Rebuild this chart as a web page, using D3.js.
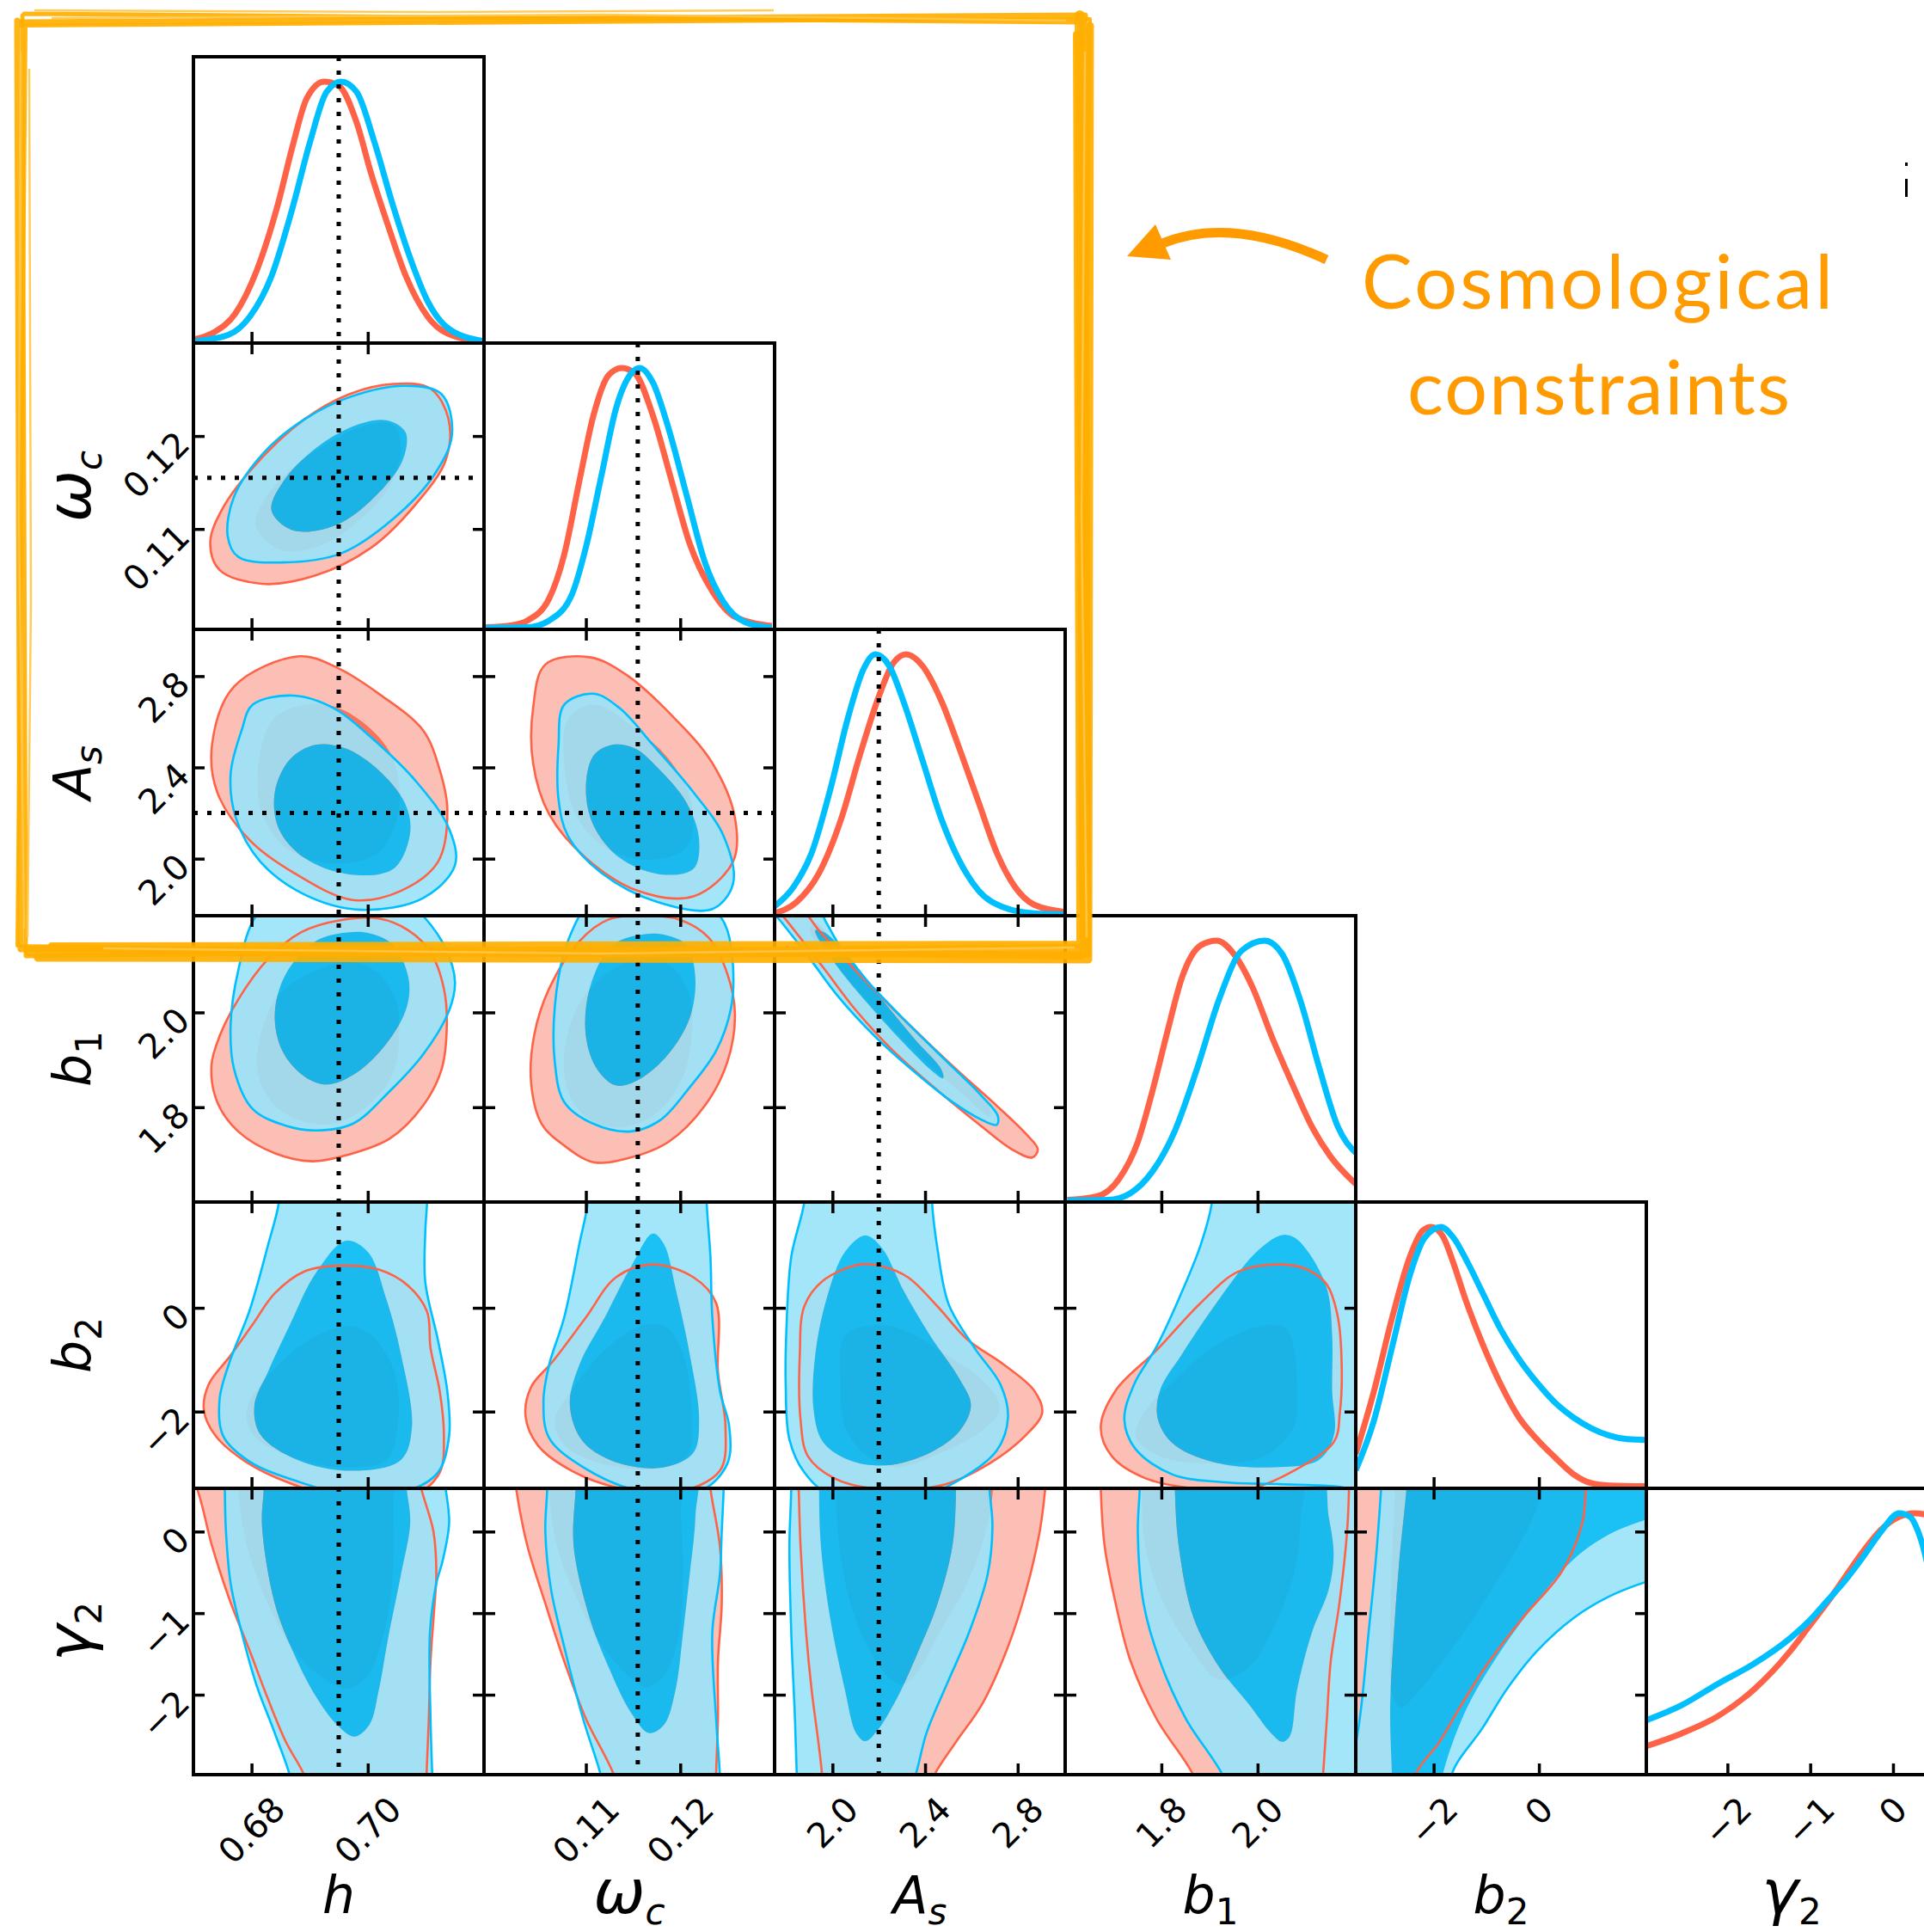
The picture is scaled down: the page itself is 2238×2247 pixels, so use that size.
<!DOCTYPE html>
<html><head><meta charset="utf-8">
<script src="https://cdn.jsdelivr.net/npm/d3@7"></script>
<style>body{margin:0;background:#fff}svg{display:block}</style>
</head><body>
<svg id="chart" width="2238" height="2247"></svg>
<script>
// ---------- parameters ----------
const paramNames = ["h", "omega_c", "A_s", "b_1", "b_2", "gamma_2"];
const axisMin = [0.67, 0.0992, 1.75, 1.6, -3.48, -2.98];
const axisMax = [0.72, 0.1300, 3.005, 2.204, 2.04, 0.53];
const tickValues = [[0.68, 0.70], [0.11, 0.12], [2.0, 2.4, 2.8], [1.8, 2.0], [-2, 0], [-2, -1, 0]];
const tickLabels = [["0.68", "0.70"], ["0.11", "0.12"], ["2.0", "2.4", "2.8"], ["1.8", "2.0"], ["\u22122", "0"], ["\u22122", "\u22121", "0"]];
const truthValues = [0.695, 0.1155, 2.2];

// ---------- 1D marginal densities (value, normalised density) ----------
const hRed = [[0.6702,0.014],[0.6736,0.042],[0.6772,0.113],[0.6809,0.278],[0.6846,0.536],[0.6870,0.748],[0.6895,0.936],[0.6925,1.0],[0.6950,0.984],[0.6981,0.842],[0.7005,0.654],[0.7036,0.442],[0.7066,0.254],[0.7103,0.101],[0.7152,0.024],[0.7200,0.007]];
const hBlue = [[0.6702,0.007],[0.6760,0.031],[0.6797,0.101],[0.6834,0.254],[0.6870,0.513],[0.6901,0.772],[0.6929,0.960],[0.6954,1.0],[0.6981,0.960],[0.7011,0.772],[0.7042,0.536],[0.7073,0.325],[0.7103,0.160],[0.7140,0.054],[0.7200,0.007]];
const wcRed = [[0.0994,0.008],[0.1020,0.015],[0.1038,0.034],[0.1061,0.118],[0.1077,0.286],[0.1093,0.566],[0.1108,0.818],[0.1124,0.972],[0.1138,1.0],[0.1152,0.979],[0.1171,0.818],[0.1191,0.566],[0.1210,0.328],[0.1234,0.146],[0.1258,0.048],[0.1297,0.013]];
const wcBlue = [[0.0994,0.006],[0.1038,0.008],[0.1061,0.034],[0.1085,0.132],[0.1100,0.314],[0.1116,0.580],[0.1132,0.846],[0.1148,0.979],[0.1157,1.0],[0.1171,0.944],[0.1187,0.776],[0.1207,0.510],[0.1226,0.258],[0.1246,0.104],[0.1269,0.027],[0.1297,0.006]];
const AsRed = [[1.75,0.009],[1.846,0.053],[1.942,0.163],[2.038,0.371],[2.118,0.613],[2.198,0.833],[2.262,0.965],[2.318,1.0],[2.390,0.954],[2.470,0.822],[2.550,0.635],[2.630,0.437],[2.710,0.240],[2.790,0.108],[2.871,0.042],[3.005,0.014]];
const AsBlue = [[1.75,0.036],[1.830,0.108],[1.910,0.240],[1.990,0.481],[2.070,0.767],[2.134,0.943],[2.185,1.0],[2.246,0.954],[2.310,0.811],[2.390,0.591],[2.470,0.371],[2.550,0.207],[2.630,0.097],[2.742,0.031],[2.871,0.009],[3.005,0.005]];
const b1Red = [[1.6046,0.008],[1.6663,0.022],[1.7125,0.090],[1.7510,0.230],[1.7818,0.427],[1.8126,0.652],[1.8434,0.862],[1.8820,0.982],[1.9151,1.0],[1.9513,0.947],[1.9898,0.820],[2.0283,0.638],[2.0746,0.441],[2.1131,0.287],[2.1516,0.174],[2.204,0.069]];
const b1Blue = [[1.6046,0.006],[1.6894,0.008],[1.7356,0.034],[1.7818,0.118],[1.8280,0.272],[1.8743,0.511],[1.9205,0.778],[1.9667,0.961],[2.0145,1.0],[2.0515,0.947],[2.0900,0.764],[2.1285,0.511],[2.1670,0.287],[2.204,0.188]];
const b2Red = [[-3.48,0.132],[-3.136,0.370],[-2.792,0.650],[-2.448,0.888],[-2.207,0.986],[-2.048,1.0],[-1.828,0.965],[-1.622,0.860],[-1.415,0.734],[-1.071,0.552],[-0.727,0.398],[-0.383,0.272],[-0.039,0.188],[0.306,0.118],[0.650,0.055],[0.994,0.020],[1.338,0.011],[2.04,0.008]];
const b2Blue = [[-3.48,0.069],[-3.136,0.258],[-2.792,0.538],[-2.448,0.818],[-2.172,0.958],[-1.862,1.0],[-1.622,0.958],[-1.346,0.860],[-1.071,0.748],[-0.727,0.608],[-0.383,0.496],[-0.039,0.405],[0.306,0.328],[0.650,0.272],[0.994,0.230],[1.338,0.202],[1.682,0.188],[2.04,0.185]];
const g2Red = [[-2.98,0.109],[-2.551,0.158],[-2.113,0.224],[-1.676,0.327],[-1.238,0.474],[-1.019,0.565],[-0.800,0.656],[-0.581,0.755],[-0.363,0.853],[-0.144,0.937],[0.075,0.986],[0.250,1.0],[0.373,0.996],[0.53,0.97]];
const g2Blue = [[-2.98,0.208],[-2.551,0.266],[-2.113,0.348],[-1.676,0.425],[-1.238,0.523],[-1.019,0.586],[-0.800,0.663],[-0.581,0.741],[-0.363,0.832],[-0.144,0.930],[0.075,1.0],[0.207,0.986],[0.294,0.937],[0.373,0.860],[0.53,0.62]];

// ---------- 2D credible regions (x value, y value) ----------
// (h, omega_c)
const h_wc_red95 = [[0.6729,0.1086],[0.6745,0.1056],[0.6818,0.1041],[0.6910,0.1050],[0.7006,0.1080],[0.7083,0.1127],[0.7134,0.1174],[0.7139,0.1218],[0.7108,0.1251],[0.7044,0.1256],[0.6968,0.1245],[0.6891,0.1218],[0.6808,0.1170],[0.6751,0.1123]];
const h_wc_red68 = [[0.6807,0.1104],[0.6847,0.1078],[0.6910,0.1080],[0.6981,0.1107],[0.7038,0.1147],[0.7057,0.1186],[0.7044,0.1212],[0.7000,0.1212],[0.6936,0.1194],[0.6859,0.1159],[0.6818,0.1127]];
const h_wc_blue95 = [[0.6759,0.1092],[0.6777,0.1070],[0.6853,0.1064],[0.6955,0.1074],[0.7044,0.1111],[0.7115,0.1159],[0.7145,0.1202],[0.7127,0.1245],[0.7064,0.1254],[0.6974,0.1243],[0.6891,0.1218],[0.6821,0.1182],[0.6770,0.1135]];
const h_wc_blue68 = [[0.6834,0.1121],[0.6859,0.1102],[0.6891,0.1097],[0.6955,0.1107],[0.7019,0.1139],[0.7060,0.1174],[0.7065,0.1204],[0.7032,0.1217],[0.6981,0.1212],[0.6917,0.1190],[0.6859,0.1155]];
// (h, A_s)
const h_As_red95 = [[0.6882,2.887],[0.6770,2.755],[0.6732,2.499],[0.6741,2.291],[0.6796,2.083],[0.6872,1.939],[0.6974,1.819],[0.7057,1.859],[0.7121,1.987],[0.7137,2.211],[0.7124,2.387],[0.7095,2.563],[0.7019,2.723],[0.6949,2.835]];
const h_As_red68 = [[0.6891,2.675],[0.6837,2.611],[0.6812,2.419],[0.6818,2.195],[0.6866,2.035],[0.6942,1.979],[0.7019,2.027],[0.7054,2.227],[0.7041,2.451],[0.6993,2.595],[0.6942,2.667]];
const h_As_blue95 = [[0.6872,2.715],[0.6802,2.675],[0.6783,2.563],[0.6764,2.371],[0.6773,2.179],[0.6815,1.987],[0.6891,1.843],[0.6987,1.776],[0.7095,1.827],[0.7150,1.971],[0.7140,2.131],[0.7083,2.339],[0.7006,2.531],[0.6942,2.659]];
const h_As_blue68 = [[0.6910,2.499],[0.6866,2.435],[0.6840,2.291],[0.6847,2.131],[0.6891,2.003],[0.6968,1.931],[0.7044,1.955],[0.7073,2.115],[0.7064,2.243],[0.7019,2.387],[0.6962,2.483]];
// (omega_c, A_s)
const wc_As_red95 = [[0.1104,2.883],[0.1057,2.851],[0.1044,2.659],[0.1044,2.419],[0.1061,2.195],[0.1100,2.003],[0.1155,1.859],[0.1214,1.835],[0.1256,1.987],[0.1258,2.179],[0.1234,2.419],[0.1195,2.611],[0.1144,2.803]];
const wc_As_red68 = [[0.1108,2.675],[0.1081,2.611],[0.1077,2.419],[0.1089,2.195],[0.1120,2.051],[0.1167,1.995],[0.1207,2.051],[0.1212,2.243],[0.1191,2.419],[0.1155,2.563]];
const wc_As_blue95 = [[0.1108,2.723],[0.1077,2.675],[0.1071,2.499],[0.1071,2.259],[0.1081,2.099],[0.1116,1.939],[0.1175,1.811],[0.1234,1.779],[0.1256,1.891],[0.1246,2.099],[0.1214,2.291],[0.1171,2.499],[0.1136,2.659]];
const wc_As_blue68 = [[0.1128,2.499],[0.1108,2.451],[0.1100,2.307],[0.1108,2.147],[0.1136,2.003],[0.1179,1.931],[0.1214,1.955],[0.1220,2.083],[0.1207,2.243],[0.1175,2.403],[0.1152,2.483]];
// (h, b_1)
const h_b1_red95 = [[0.7108,2.127],[0.7131,2.050],[0.7136,1.973],[0.7127,1.880],[0.7095,1.803],[0.7038,1.734],[0.6955,1.696],[0.6904,1.686],[0.6840,1.703],[0.6777,1.749],[0.6741,1.811],[0.6731,1.888],[0.6745,1.950],[0.6777,2.027],[0.6828,2.112],[0.6885,2.169],[0.6955,2.195],[0.7019,2.198],[0.7070,2.173]];
const h_b1_red68 = [[0.6840,2.027],[0.6812,1.934],[0.6812,1.865],[0.6840,1.803],[0.6891,1.769],[0.6942,1.765],[0.7000,1.803],[0.7044,1.873],[0.7054,1.950],[0.7048,2.027],[0.7013,2.088],[0.6968,2.108],[0.6910,2.088],[0.6866,2.058]];
const h_b1_blue95 = [[0.6808,2.204],[0.6777,2.088],[0.6764,1.973],[0.6770,1.880],[0.6802,1.796],[0.6859,1.761],[0.6910,1.751],[0.6974,1.765],[0.7038,1.834],[0.7095,1.911],[0.7140,2.004],[0.7150,2.065],[0.7134,2.135],[0.7095,2.204],[0.7044,2.258],[0.6866,2.258]];
const h_b1_blue68 = [[0.6968,2.169],[0.6910,2.150],[0.6859,2.081],[0.6840,1.996],[0.6853,1.919],[0.6891,1.865],[0.6930,1.848],[0.6981,1.873],[0.7032,1.934],[0.7067,2.011],[0.7070,2.073],[0.7044,2.142],[0.7006,2.166]];
// (omega_c, b_1)
const wc_b1_red95 = [[0.1061,2.050],[0.1045,1.950],[0.1042,1.850],[0.1053,1.765],[0.1077,1.719],[0.1108,1.684],[0.1144,1.692],[0.1187,1.726],[0.1226,1.803],[0.1250,1.896],[0.1258,1.996],[0.1250,2.081],[0.1230,2.158],[0.1199,2.196],[0.1163,2.204],[0.1124,2.196],[0.1093,2.150]];
const wc_b1_red68 = [[0.1116,2.073],[0.1089,2.004],[0.1077,1.911],[0.1081,1.834],[0.1100,1.780],[0.1136,1.757],[0.1175,1.788],[0.1203,1.865],[0.1212,1.950],[0.1210,2.035],[0.1191,2.096],[0.1155,2.112]];
const wc_b1_blue95 = [[0.1093,2.204],[0.1077,2.127],[0.1067,2.011],[0.1067,1.896],[0.1077,1.811],[0.1108,1.765],[0.1148,1.749],[0.1179,1.773],[0.1210,1.842],[0.1238,1.919],[0.1254,2.011],[0.1256,2.096],[0.1250,2.173],[0.1242,2.204],[0.1212,2.258],[0.1110,2.258]];
const wc_b1_blue68 = [[0.1167,2.166],[0.1128,2.142],[0.1104,2.050],[0.1100,1.950],[0.1112,1.880],[0.1132,1.846],[0.1155,1.857],[0.1187,1.911],[0.1210,1.988],[0.1216,2.073],[0.1207,2.142],[0.1187,2.162]];
// (A_s, b_1)
const As_b1_red95 = [[1.654,2.281],[1.798,2.196],[1.958,2.096],[2.102,2.004],[2.262,1.919],[2.438,1.842],[2.630,1.765],[2.775,1.711],[2.863,1.694],[2.887,1.711],[2.839,1.742],[2.710,1.803],[2.550,1.873],[2.390,1.946],[2.230,2.023],[2.070,2.104],[1.942,2.173],[1.814,2.250]];
const As_b1_red68 = [[1.902,2.173],[2.038,2.088],[2.230,1.981],[2.422,1.888],[2.582,1.819],[2.678,1.780],[2.675,1.803],[2.550,1.873],[2.358,1.965],[2.166,2.058],[2.006,2.150],[1.926,2.189]];
const As_b1_blue95 = [[1.654,2.266],[1.782,2.189],[1.894,2.119],[2.022,2.035],[2.182,1.950],[2.358,1.873],[2.518,1.811],[2.646,1.773],[2.710,1.763],[2.714,1.782],[2.646,1.823],[2.486,1.900],[2.326,1.977],[2.166,2.058],[2.038,2.135],[1.974,2.189],[1.894,2.258]];
const As_b1_blue68 = [[1.926,2.173],[2.022,2.096],[2.166,2.011],[2.310,1.934],[2.422,1.880],[2.478,1.861],[2.470,1.880],[2.358,1.942],[2.214,2.027],[2.070,2.119],[1.974,2.166]];
// (h, b_2)
const h_b2_red95 = [[0.6955,0.815],[0.6891,0.702],[0.6840,0.280],[0.6802,-0.319],[0.6764,-0.917],[0.6726,-1.481],[0.6718,-1.973],[0.6738,-2.466],[0.6789,-2.959],[0.6866,-3.381],[0.6955,-3.663],[0.7083,-3.593],[0.7124,-3.170],[0.7131,-2.466],[0.7124,-1.621],[0.7108,-0.776],[0.7102,-0.072],[0.7070,0.421],[0.7019,0.737]];
const h_b2_red68 = [[0.6955,-0.361],[0.6891,-0.678],[0.6828,-1.312],[0.6792,-1.945],[0.6802,-2.438],[0.6866,-2.861],[0.6955,-3.072],[0.7032,-2.931],[0.7051,-2.297],[0.7048,-1.312],[0.7019,-0.678],[0.6987,-0.396]];
const h_b2_blue95 = [[0.6847,2.533],[0.6847,2.04],[0.6828,1.195],[0.6796,-0.072],[0.6764,-0.988],[0.6745,-1.762],[0.6751,-2.466],[0.6796,-2.959],[0.6879,-3.346],[0.6968,-3.593],[0.7070,-3.522],[0.7121,-3.170],[0.7140,-2.466],[0.7137,-1.621],[0.7121,-0.636],[0.7099,0.491],[0.7099,1.477],[0.7102,2.04],[0.7102,2.533]];
const h_b2_blue68 = [[0.6962,1.294],[0.6910,0.660],[0.6866,-0.326],[0.6828,-1.241],[0.6805,-1.875],[0.6815,-2.438],[0.6879,-2.931],[0.6974,-3.142],[0.7057,-2.931],[0.7076,-2.297],[0.7057,-0.889],[0.7032,0.167],[0.7000,1.082]];
// (omega_c, b_2)
const wc_b2_red95 = [[0.1171,0.836],[0.1132,0.590],[0.1100,-0.185],[0.1065,-1.030],[0.1042,-1.523],[0.1036,-2.086],[0.1049,-2.649],[0.1085,-3.142],[0.1136,-3.480],[0.1195,-3.565],[0.1242,-3.142],[0.1248,-2.297],[0.1240,-1.241],[0.1238,0.097],[0.1214,0.590]];
const wc_b2_red68 = [[0.1163,-0.326],[0.1122,-0.776],[0.1085,-1.593],[0.1067,-2.156],[0.1077,-2.649],[0.1116,-3.001],[0.1171,-3.107],[0.1207,-2.861],[0.1212,-1.945],[0.1203,-0.889],[0.1187,-0.396]];
const wc_b2_blue95 = [[0.1102,2.533],[0.1102,2.04],[0.1093,1.223],[0.1077,-0.185],[0.1061,-1.100],[0.1055,-1.804],[0.1061,-2.508],[0.1097,-3.072],[0.1155,-3.522],[0.1222,-3.522],[0.1250,-3.001],[0.1252,-2.297],[0.1242,-1.593],[0.1234,-0.185],[0.1232,0.984],[0.1228,2.04],[0.1228,2.533]];
const wc_b2_blue68 = [[0.1171,1.434],[0.1148,0.801],[0.1120,-0.185],[0.1093,-1.100],[0.1083,-1.875],[0.1097,-2.579],[0.1136,-3.001],[0.1183,-3.072],[0.1214,-2.790],[0.1220,-2.156],[0.1210,-0.889],[0.1195,0.378],[0.1183,1.223]];
// (A_s, b_2)
const As_b2_red95 = [[2.118,0.836],[1.958,0.519],[1.878,0.026],[1.859,-0.889],[1.862,-2.156],[1.894,-2.861],[2.006,-3.283],[2.198,-3.494],[2.470,-3.424],[2.678,-3.001],[2.839,-2.438],[2.906,-2.016],[2.871,-1.593],[2.742,-1.100],[2.582,-0.607],[2.454,0.026],[2.326,0.590],[2.214,0.801]];
const As_b2_red68 = [[2.198,-0.326],[2.054,-0.537],[2.035,-1.452],[2.054,-2.297],[2.150,-2.861],[2.278,-3.072],[2.470,-2.790],[2.646,-2.368],[2.723,-1.945],[2.662,-1.452],[2.486,-0.889],[2.326,-0.467]];
const As_b2_blue95 = [[1.878,2.533],[1.878,2.04],[1.822,0.984],[1.801,-0.424],[1.798,-1.481],[1.814,-2.537],[1.878,-3.170],[1.990,-3.593],[2.358,-3.663],[2.550,-3.311],[2.710,-2.748],[2.758,-2.114],[2.726,-1.481],[2.614,-0.776],[2.502,0.068],[2.454,1.125],[2.430,2.04],[2.430,2.533]];
const As_b2_blue68 = [[2.142,1.399],[2.054,1.082],[1.974,0.167],[1.926,-0.889],[1.918,-1.945],[1.958,-2.579],[2.070,-2.931],[2.230,-3.037],[2.422,-2.790],[2.550,-2.368],[2.598,-1.875],[2.550,-1.382],[2.422,-0.537],[2.310,0.308],[2.214,1.153]];
// (b_1, b_2)
const b1_b2_red95 = [[2.051,0.836],[1.959,0.695],[1.882,0.097],[1.790,-0.818],[1.705,-1.593],[1.674,-2.297],[1.697,-2.861],[1.766,-3.283],[1.867,-3.480],[1.982,-3.494],[2.075,-3.142],[2.159,-2.579],[2.171,-2.016],[2.175,-1.241],[2.167,-0.185],[2.144,0.449],[2.105,0.730]];
const b1_b2_red68 = [[2.021,-0.326],[1.920,-0.678],[1.828,-1.382],[1.759,-2.086],[1.747,-2.508],[1.797,-2.861],[1.905,-3.001],[2.013,-2.861],[2.075,-2.297],[2.082,-1.452],[2.075,-0.748],[2.059,-0.396]];
const b1_b2_blue95 = [[1.905,2.533],[1.905,2.04],[1.882,1.223],[1.836,0.167],[1.790,-0.748],[1.743,-1.481],[1.723,-2.156],[1.746,-2.720],[1.823,-3.213],[1.924,-3.36],[2.040,-3.40],[2.160,-3.44],[2.300,-3.55],[2.300,2.533]];
const b1_b2_blue68 = [[2.048,1.399],[1.998,1.082],[1.920,0.167],[1.843,-0.889],[1.797,-1.593],[1.793,-2.156],[1.828,-2.649],[1.920,-3.001],[2.036,-3.072],[2.128,-2.931],[2.159,-2.438],[2.155,-1.593],[2.155,-0.537],[2.144,0.378],[2.105,1.082],[2.075,1.364]];
// (h, gamma_2)
const h_g2_red95 = [[0.6681,0.883],[0.6706,0.53],[0.6732,-0.176],[0.6761,-0.812],[0.6796,-1.447],[0.6828,-2.048],[0.6859,-2.577],[0.6891,-2.994],[0.6904,-3.354],[0.7099,-3.354],[0.7101,-2.994],[0.7105,-2.295],[0.7108,-1.589],[0.7115,-0.882],[0.7118,-0.529],[0.7113,0.0],[0.7092,0.53],[0.7083,0.883]];
const h_g2_red68 = [[0.6777,0.883],[0.6777,0.53],[0.6792,-0.176],[0.6828,-0.882],[0.6872,-1.447],[0.6917,-1.765],[0.6962,-1.924],[0.7000,-1.765],[0.7028,-1.236],[0.7043,-0.529],[0.7044,0.177],[0.7032,0.883]];
const h_g2_blue95 = [[0.6754,0.883],[0.6754,0.53],[0.6756,0.0],[0.6764,-0.635],[0.6783,-1.236],[0.6808,-1.871],[0.6840,-2.471],[0.6866,-2.994],[0.6875,-3.354],[0.7113,-3.354],[0.7111,-2.994],[0.7108,-2.295],[0.7107,-1.236],[0.7118,-0.635],[0.7129,-0.353],[0.7140,0.106],[0.7134,0.53],[0.7127,0.883]];
const h_g2_blue68 = [[0.6821,0.883],[0.6821,0.53],[0.6818,0.071],[0.6840,-0.882],[0.6872,-1.483],[0.6910,-2.012],[0.6949,-2.383],[0.6977,-2.514],[0.7003,-2.365],[0.7019,-1.942],[0.7035,-1.306],[0.7057,-0.529],[0.7073,0.106],[0.7067,0.53],[0.7064,0.883]];
// (omega_c, gamma_2)
const wc_g2_red95 = [[0.1023,0.883],[0.1026,0.53],[0.1038,-0.176],[0.1057,-0.882],[0.1077,-1.589],[0.1100,-2.295],[0.1130,-2.994],[0.1137,-3.354],[0.1238,-3.354],[0.1238,-2.994],[0.1240,-2.295],[0.1240,-1.589],[0.1244,-0.882],[0.1242,-0.176],[0.1232,0.53],[0.1230,0.883]];
const wc_g2_red68 = [[0.1061,0.883],[0.1061,0.53],[0.1069,-0.176],[0.1093,-0.882],[0.1120,-1.447],[0.1148,-1.800],[0.1163,-1.906],[0.1183,-1.765],[0.1199,-1.236],[0.1203,-0.529],[0.1201,0.177],[0.1195,0.883]];
const wc_g2_blue95 = [[0.1059,0.883],[0.1059,0.53],[0.1057,0.0],[0.1063,-0.706],[0.1077,-1.412],[0.1097,-2.295],[0.1116,-2.994],[0.1122,-3.354],[0.1242,-3.354],[0.1242,-2.994],[0.1238,-2.295],[0.1234,-1.236],[0.1242,-0.529],[0.1244,0.0],[0.1246,0.53],[0.1246,0.883]];
const wc_g2_blue68 = [[0.1089,0.883],[0.1089,0.53],[0.1087,-0.176],[0.1104,-1.059],[0.1124,-1.659],[0.1148,-2.224],[0.1167,-2.471],[0.1183,-2.365],[0.1195,-1.942],[0.1203,-1.236],[0.1210,-0.529],[0.1216,0.177],[0.1214,0.883]];
// (A_s, gamma_2)
const As_g2_red95 = [[1.849,0.883],[1.854,0.53],[1.862,-0.176],[1.886,-1.236],[1.910,-1.942],[1.942,-2.648],[1.955,-2.994],[1.958,-3.354],[2.390,-3.354],[2.438,-2.994],[2.534,-2.577],[2.646,-2.118],[2.758,-1.412],[2.838,-0.706],[2.895,0.0],[2.919,0.53],[2.927,0.883]];
const As_g2_red68 = [[2.014,0.883],[2.014,0.53],[2.030,-0.176],[2.078,-0.882],[2.158,-1.447],[2.246,-1.800],[2.302,-1.871],[2.366,-1.730],[2.462,-1.236],[2.582,-0.635],[2.662,0.0],[2.694,0.53],[2.694,0.883]];
const As_g2_blue95 = [[1.822,0.883],[1.822,0.53],[1.814,-0.176],[1.822,-1.236],[1.838,-2.295],[1.846,-2.994],[1.849,-3.354],[2.310,-3.354],[2.358,-2.994],[2.406,-2.471],[2.494,-1.871],[2.590,-1.236],[2.670,-0.529],[2.691,0.071],[2.678,0.53],[2.678,0.883]];
const As_g2_blue68 = [[1.942,0.883],[1.942,0.53],[1.950,-0.176],[1.990,-1.059],[2.054,-1.942],[2.102,-2.471],[2.142,-2.570],[2.190,-2.454],[2.278,-2.048],[2.374,-1.447],[2.454,-0.882],[2.518,-0.176],[2.534,0.53],[2.534,0.883]];
// (b_1, gamma_2)
const b1_g2_red95 = [[1.674,0.883],[1.674,0.53],[1.682,-0.176],[1.705,-0.882],[1.736,-1.589],[1.790,-2.295],[1.867,-2.994],[1.885,-3.354],[2.132,-3.354],[2.136,-2.994],[2.144,-2.295],[2.152,-1.589],[2.170,-0.882],[2.186,0.0],[2.190,0.53],[2.190,0.883]];
const b1_g2_red68 = [[1.759,0.883],[1.759,0.53],[1.766,-0.176],[1.805,-0.882],[1.859,-1.412],[1.920,-1.818],[1.982,-1.659],[2.028,-1.236],[2.075,-0.529],[2.090,0.177],[2.090,0.883]];
const b1_g2_blue95 = [[1.755,0.883],[1.755,0.53],[1.751,0.0],[1.763,-0.882],[1.797,-1.589],[1.851,-2.295],[1.928,-2.994],[1.947,-3.354],[2.293,-3.354],[2.293,0.883]];
const b1_g2_blue68 = [[1.828,0.883],[1.828,0.53],[1.836,-0.176],[1.867,-1.059],[1.920,-1.659],[1.982,-2.118],[2.028,-2.471],[2.051,-2.577],[2.067,-2.507],[2.082,-1.942],[2.113,-1.236],[2.148,-0.706],[2.158,-0.282],[2.148,0.177],[2.121,0.883]];
// (b_2, gamma_2)
const b2_g2_red95 = [[-4.168,0.978],[0.960,0.978],[0.891,0.503],[0.822,0.100],[0.443,-0.482],[-0.314,-1.064],[-1.002,-1.646],[-1.484,-2.138],[-1.897,-2.586],[-2.344,-2.980],[-2.448,-3.499],[-4.168,-3.499]];
const b2_g2_red68 = [[-2.723,0.978],[-2.737,0.53],[-2.792,-0.365],[-2.826,-1.261],[-2.792,-1.977],[-2.620,-2.156],[-2.310,-1.977],[-1.553,-1.350],[-0.864,-0.679],[-0.245,-0.007],[0.030,0.440],[0.099,0.978]];
const b2_g2_blue95 = [[-2.964,0.978],[-2.998,0.53],[-3.101,-0.365],[-3.239,-1.261],[-3.377,-2.156],[-3.48,-2.604],[-3.824,-3.499],[-1.656,-3.499],[-1.656,-2.980],[-1.071,-2.407],[-0.589,-1.914],[-0.039,-1.467],[0.650,-1.064],[1.338,-0.795],[2.040,-0.616],[2.715,-0.500],[2.715,0.978]];
const b2_g2_blue68 = [[-2.482,0.978],[-2.516,0.53],[-2.654,-0.365],[-2.757,-1.261],[-2.826,-2.156],[-2.792,-2.980],[-2.757,-3.499],[-1.966,-3.499],[-1.828,-2.980],[-1.415,-2.228],[-0.864,-1.601],[-0.176,-0.974],[0.650,-0.347],[1.338,-0.034],[2.040,0.145],[2.715,0.261],[2.715,0.978]];

// ---------- assemble panel tables ----------
const marginals = [[hRed, hBlue], [wcRed, wcBlue], [AsRed, AsBlue], [b1Red, b1Blue], [b2Red, b2Blue], [g2Red, g2Blue]];
const pairs = [
  [0,1,h_wc_red95,h_wc_red68,h_wc_blue95,h_wc_blue68],
  [0,2,h_As_red95,h_As_red68,h_As_blue95,h_As_blue68],
  [1,2,wc_As_red95,wc_As_red68,wc_As_blue95,wc_As_blue68],
  [0,3,h_b1_red95,h_b1_red68,h_b1_blue95,h_b1_blue68],
  [1,3,wc_b1_red95,wc_b1_red68,wc_b1_blue95,wc_b1_blue68],
  [2,3,As_b1_red95,As_b1_red68,As_b1_blue95,As_b1_blue68],
  [0,4,h_b2_red95,h_b2_red68,h_b2_blue95,h_b2_blue68],
  [1,4,wc_b2_red95,wc_b2_red68,wc_b2_blue95,wc_b2_blue68],
  [2,4,As_b2_red95,As_b2_red68,As_b2_blue95,As_b2_blue68],
  [3,4,b1_b2_red95,b1_b2_red68,b1_b2_blue95,b1_b2_blue68],
  [0,5,h_g2_red95,h_g2_red68,h_g2_blue95,h_g2_blue68],
  [1,5,wc_g2_red95,wc_g2_red68,wc_g2_blue95,wc_g2_blue68],
  [2,5,As_g2_red95,As_g2_red68,As_g2_blue95,As_g2_blue68],
  [3,5,b1_g2_red95,b1_g2_red68,b1_g2_blue95,b1_g2_blue68],
  [4,5,b2_g2_red95,b2_g2_red68,b2_g2_blue95,b2_g2_blue68]
].map(([col,row,red95,red68,blue95,blue68]) => ({col,row,red95,red68,blue95,blue68}));

// ---------- styling & layout ----------
const RED_LINE = "#ff6347", BLUE_LINE = "#00bfff";
const RED95_FILL = "#fbbfb5", RED68_FILL = "#f9735c";
const BLUE95_FILL = "rgb(153,227,249)", BLUE68_FILL = "rgb(2,185,244)";
const N = 6;
const gridLeft = 225, gridTop = 66, cellW = 338, cellH = 333;
const colX = i => gridLeft + i * cellW;
const rowY = j => gridTop + j * cellH;
const TICK_FONT = 40, LABEL_FONT = 60, GREEK_FONT = 72;

const svg = d3.select("#chart");
const defs = svg.append("defs");

const xScales = d3.range(N).map(i => d3.scaleLinear().domain([axisMin[i], axisMax[i]]).range([colX(i), colX(i) + cellW]));
const yScales = d3.range(N).map(j => d3.scaleLinear().domain([axisMin[j], axisMax[j]]).range([rowY(j) + cellH, rowY(j)]));
const densityScales = d3.range(N).map(j => d3.scaleLinear().domain([0, 1.095]).range([rowY(j) + cellH, rowY(j)]));

function clipFor(col, row) {
  const id = `clip-${col}-${row}`;
  defs.append("clipPath").attr("id", id).append("rect")
    .attr("x", colX(col)).attr("y", rowY(row)).attr("width", cellW).attr("height", cellH);
  return `url(#${id})`;
}

// ---------- 2D panels ----------
pairs.forEach(p => {
  const xs = xScales[p.col], ys = yScales[p.row];
  const shape = d3.line().x(d => xs(d[0])).y(d => ys(d[1])).curve(d3.curveCatmullRomClosed.alpha(0.5));
  const g = svg.append("g").attr("clip-path", clipFor(p.col, p.row));
  g.append("path").attr("d", shape(p.red95)).attr("fill", RED95_FILL);
  g.append("path").attr("d", shape(p.red68)).attr("fill", RED68_FILL);
  g.append("path").attr("d", shape(p.blue95) + shape(p.blue68))
    .attr("fill", BLUE95_FILL).attr("fill-opacity", 0.9).attr("fill-rule", "evenodd");
  g.append("path").attr("d", shape(p.blue68)).attr("fill", BLUE68_FILL).attr("fill-opacity", 0.9);
  g.append("path").attr("d", shape(p.red95)).attr("fill", "none").attr("stroke", RED_LINE).attr("stroke-width", 2.6);
  g.append("path").attr("d", shape(p.blue95)).attr("fill", "none").attr("stroke", BLUE_LINE).attr("stroke-width", 2.6);
});

// ---------- 1D panels ----------
marginals.forEach(([red, blue], i) => {
  const xs = xScales[i], ds = densityScales[i];
  const curve = d3.line().x(d => xs(d[0])).y(d => ds(d[1])).curve(d3.curveMonotoneX);
  const g = svg.append("g").attr("clip-path", clipFor(i, i));
  g.append("path").attr("d", curve(red)).attr("fill", "none").attr("stroke", RED_LINE).attr("stroke-width", 7);
  g.append("path").attr("d", curve(blue)).attr("fill", "none").attr("stroke", BLUE_LINE).attr("stroke-width", 7);
});

// ---------- fiducial values (dotted) ----------
const truthG = svg.append("g").attr("stroke", "#000").attr("stroke-width", 5).attr("stroke-dasharray", "5 11");
truthValues.forEach((v, i) => {
  const x = xScales[i](v);
  truthG.append("line").attr("x1", x).attr("x2", x).attr("y1", rowY(i)).attr("y2", rowY(N));
  if (i > 0) {
    const y = yScales[i](v);
    truthG.append("line").attr("x1", colX(0)).attr("x2", colX(i)).attr("y1", y).attr("y2", y);
  }
});

// ---------- frames and inward ticks ----------
function styleAxis(g) {
  g.select(".domain").remove();
  g.selectAll(".tick line").attr("stroke", "#000").attr("stroke-width", 3.5);
}
function drawFrame(col, row, is1D) {
  const x0 = colX(col), y0 = rowY(row);
  const xs = xScales[col];
  styleAxis(svg.append("g").attr("transform", `translate(0,${y0 + cellH})`)
    .call(d3.axisBottom(xs).tickValues(tickValues[col]).tickSize(-13).tickFormat("")));
  if (!is1D) {
    const ys = yScales[row];
    styleAxis(svg.append("g").attr("transform", `translate(0,${y0})`)
      .call(d3.axisTop(xs).tickValues(tickValues[col]).tickSize(-13).tickFormat("")));
    styleAxis(svg.append("g").attr("transform", `translate(${x0},0)`)
      .call(d3.axisLeft(ys).tickValues(tickValues[row]).tickSize(-13).tickFormat("")));
    styleAxis(svg.append("g").attr("transform", `translate(${x0 + cellW},0)`)
      .call(d3.axisRight(ys).tickValues(tickValues[row]).tickSize(-13).tickFormat("")));
  }
  svg.append("rect").attr("x", x0).attr("y", y0).attr("width", cellW).attr("height", cellH)
    .attr("fill", "none").attr("stroke", "#000").attr("stroke-width", 4);
}
pairs.forEach(p => drawFrame(p.col, p.row, false));
d3.range(N).forEach(i => drawFrame(i, i, true));

// ---------- tick labels (rotated 45 degrees) ----------
const gridBottom = rowY(N);
d3.range(N).forEach(i => {
  const g = svg.append("g").attr("font-family", "DejaVu Sans").attr("font-size", TICK_FONT).attr("fill", "#000");
  tickValues[i].forEach((t, k) => {
    const x = xScales[i](t);
    const txt = g.append("text").text(tickLabels[i][k]).attr("text-anchor", "middle").attr("dominant-baseline", "central");
    const L = txt.node().getComputedTextLength();
    const boxH = 0.7071 * (L + TICK_FONT * 0.78);
    const cy = gridBottom + 22 + boxH / 2;
    txt.attr("x", x).attr("y", cy).attr("transform", `rotate(-45,${x},${cy})`);
  });
});
d3.range(1, N).forEach(j => {
  const g = svg.append("g").attr("font-family", "DejaVu Sans").attr("font-size", TICK_FONT).attr("fill", "#000");
  tickValues[j].forEach((t, k) => {
    const y = yScales[j](t) + 2, x = gridLeft - 12;
    g.append("text").text(tickLabels[j][k]).attr("text-anchor", "end").attr("dominant-baseline", "central")
      .attr("x", x).attr("y", y).attr("transform", `rotate(-45,${x},${y})`);
  });
});

// ---------- axis labels (math italic) ----------
const labelParts = [["h", ""], ["\u03c9", "c"], ["A", "s"], ["b", "1"], ["b", "2"], ["\u03b3", "2"]];
function mathLabel(sel, base, sub) {
  const greek = /[\u0370-\u03ff]/.test(base);
  sel.append("tspan").text(base).attr("font-style", "italic").attr("font-size", greek ? GREEK_FONT : LABEL_FONT);
  if (sub) {
    const upright = /[0-9]/.test(sub);
    sel.append("tspan").text(sub).attr("font-size", LABEL_FONT * 0.7).attr("dy", 13)
      .attr("font-style", upright ? "normal" : "italic");
  }
}
labelParts.forEach(([base, sub], i) => {
  const cx = colX(i) + cellW / 2;
  const t = svg.append("text").attr("x", cx).attr("y", 2225).attr("text-anchor", "middle")
    .attr("font-family", "DejaVu Sans").attr("font-size", LABEL_FONT).attr("fill", "#000");
  mathLabel(t, base, sub);
  if (i > 0) {
    const cy = rowY(i) + cellH / 2;
    const tl = svg.append("text").attr("x", 0).attr("y", 0).attr("text-anchor", "middle")
      .attr("transform", `translate(105,${cy}) rotate(-90)`)
      .attr("font-family", "DejaVu Sans").attr("font-size", LABEL_FONT).attr("fill", "#000");
    mathLabel(tl, base, sub);
  }
});

// stray glyph fragment at the right edge
svg.append("rect").attr("x", 2216).attr("y", 189).attr("width", 3).attr("height", 4).attr("fill", "#000");
svg.append("rect").attr("x", 2216).attr("y", 208).attr("width", 3).attr("height", 21).attr("fill", "#000");

// ---------- hand-drawn highlight box ----------
const BOX_COLOR = "#ffaf00";
const boxPasses = [
  {w: 7, pts: [[20,26],[1262,18],[1266,1110],[24,1104],[20,24]]},
  {w: 5, pts: [[28,16],[1258,26],[1262,1100],[30,1112],[26,18]]},
  {w: 4, pts: [[24,30],[1268,22],[1258,1114],[20,1100],[30,32]]},
  {w: 12, pts: [[1256,18],[1262,1108],[34,1106]]},
  {w: 9, pts: [[1268,30],[1266,1116],[44,1114]]},
  {w: 8, pts: [[1252,40],[1256,1098],[60,1100]]}
];
const sketch = d3.line();
boxPasses.forEach(p => {
  svg.append("path").attr("d", sketch(p.pts)).attr("fill", "none").attr("stroke", BOX_COLOR)
    .attr("stroke-width", p.w).attr("stroke-linejoin", "round").attr("stroke-linecap", "round").attr("opacity", 0.92);
});
const streaks = [
  [[60,21],[700,17],[1240,24]], [[40,12],[500,14],[900,12]], [[24,60],[22,600],[28,1080]],
  [[34,80],[36,700],[32,1090]], [[120,1103],[700,1109],[1250,1102]], [[1262,60],[1258,600],[1264,1090]]
];
streaks.forEach(s => {
  svg.append("path").attr("d", sketch(s)).attr("fill", "none").attr("stroke", "#ffc64a").attr("stroke-width", 2.5).attr("opacity", 0.9);
});

// ---------- annotation ----------
const ANNOT = "#ff9a00";
svg.append("path").attr("d", "M1543,302 Q1430,250 1350,284").attr("fill", "none")
  .attr("stroke", ANNOT).attr("stroke-width", 11);
svg.append("path").attr("d", d3.line()([[1311,298],[1344,261],[1362,302]]) + "Z").attr("fill", ANNOT);
svg.append("text").attr("x", 1584).attr("y", 359).attr("textLength", 548).attr("lengthAdjust", "spacing")
  .attr("font-family", "Lato").attr("font-size", 88).attr("fill", ANNOT).text("Cosmological");
svg.append("text").attr("x", 1637).attr("y", 482).attr("textLength", 445).attr("lengthAdjust", "spacing")
  .attr("font-family", "Lato").attr("font-size", 88).attr("fill", ANNOT).text("constraints");
</script>
</body></html>
